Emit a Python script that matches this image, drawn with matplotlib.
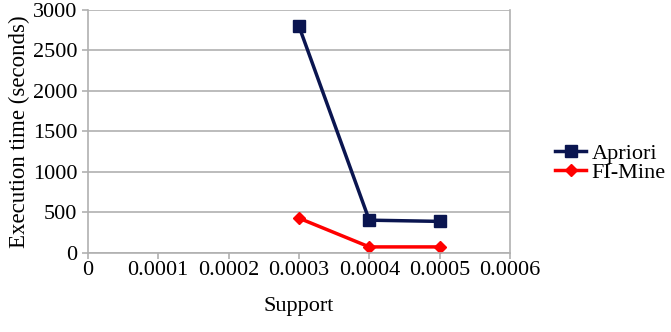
import matplotlib
matplotlib.use("Agg")
import matplotlib.pyplot as plt

# Data
support = [0.0003, 0.0004, 0.0005]
apriori = [2800, 405, 390]
fi_mine = [430, 75, 75]

plt.rcParams['font.family'] = ['Liberation Serif', 'DejaVu Serif']

fig = plt.figure(figsize=(6.71, 3.32), dpi=100)
ax = fig.add_axes([0.131, 0.238, 0.629, 0.732])

ax.plot(support, apriori, color='#0a1550', linewidth=2.5, marker='s',
        markersize=8, label='Apriori')
ax.plot(support, fi_mine, color='#ff0000', linewidth=2.5, marker='D',
        markersize=6, label='FI-Mine')

ax.set_xlim(0, 0.0006)
ax.set_ylim(0, 3000)
ax.set_xticks([0, 0.0001, 0.0002, 0.0003, 0.0004, 0.0005, 0.0006])
ax.set_xticklabels(['0', '0.0001', '0.0002', '0.0003', '0.0004', '0.0005', '0.0006'])
ax.set_yticks(range(0, 3001, 500))

ax.yaxis.grid(True, color='#b0b0b0', linewidth=1.2)
ax.set_axisbelow(True)
ax.spines['top'].set_visible(False)
for side in ['left', 'bottom', 'right']:
    ax.spines[side].set_color('#b0b0b0')
    ax.spines[side].set_linewidth(1.2)

ax.tick_params(axis='both', labelsize=16, color='#b0b0b0', length=4, width=1.2)
ax.tick_params(axis='x', pad=2)
ax.set_xlabel('Support', fontsize=16, labelpad=12)
ax.set_ylabel('Execution time (seconds)', fontsize=16.5, labelpad=2)

ax.legend(loc='center left', bbox_to_anchor=(1.075, 0.37), frameon=False,
          fontsize=16, handlelength=1.4, handletextpad=0.25, labelspacing=-0.1,
          borderaxespad=0.2)

fig.savefig('out.png', dpi=100)
